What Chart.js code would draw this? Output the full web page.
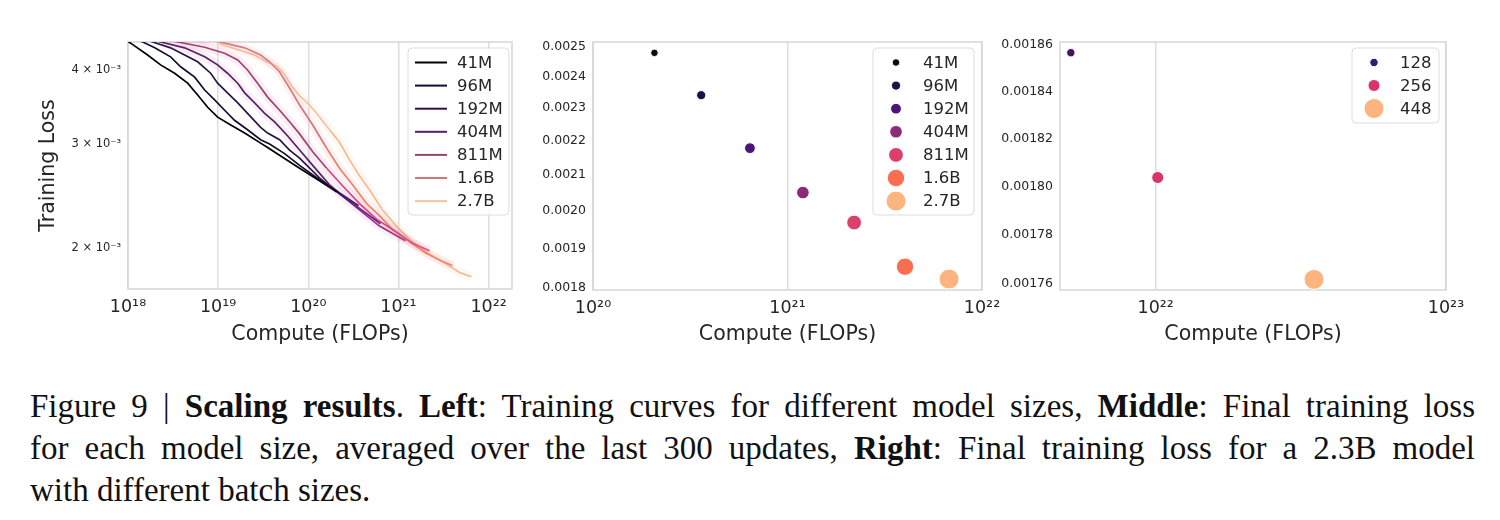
<!DOCTYPE html>
<html>
<head>
<meta charset="utf-8">
<script src="https://cdn.jsdelivr.net/npm/chart.js@4.4.1/dist/chart.umd.min.js"></script>
<style>
  body { margin: 0; background: #fff; width: 1500px; height: 520px; position: relative; overflow: hidden; }
  .panel { position: absolute; top: 0; }
  #caption { position: absolute; left: 30px; top: 385px; width: 1445px; font-family: "Liberation Serif", serif; font-size: 33px; line-height: 42px; color: #111; }
  #caption .ln { text-align: justify; text-align-last: justify; }
  #caption .last { text-align: left; }
</style>
</head>
<body>
<div class="panel" style="left:0px"><canvas id="leftChart" width="520" height="350"></canvas></div>
<div class="panel" style="left:520px"><canvas id="midChart" width="490" height="350"></canvas></div>
<div class="panel" style="left:990px"><canvas id="rightChart" width="510" height="350"></canvas></div>
<div id="caption">
  <div class="ln">Figure 9 | <b>Scaling results</b>. <b>Left</b>: Training curves for different model sizes, <b>Middle</b>: Final training loss</div>
  <div class="ln">for each model size, averaged over the last 300 updates, <b>Right</b>: Final training loss for a 2.3B model</div>
  <div class="last">with different batch sizes.</div>
</div>
<script>
// ---- data ----
const modelSizes = ['41M', '96M', '192M', '404M', '811M', '1.6B', '2.7B'];

// left: training curves (compute in FLOPs, loss)
const compute41M = [9.43e17, 1.07e18, 1.65e18, 2.30e18, 3.29e18, 4.59e18, 5.93e18, 7.65e18, 9.87e18, 1.38e19, 1.97e19, 2.96e19, 3.54e19, 5.19e19, 8.01e19, 1.33e20, 2.06e20];
const loss41M    = [4.49e-3, 4.44e-3, 4.24e-3, 4.08e-3, 3.95e-3, 3.80e-3, 3.63e-3, 3.46e-3, 3.33e-3, 3.23e-3, 3.13e-3, 3.01e-3, 2.96e-3, 2.85e-3, 2.73e-3, 2.60e-3, 2.49e-3];
const compute96M = [1.28e18, 1.46e18, 1.98e18, 2.97e18, 3.84e18, 5.49e18, 7.09e18, 9.15e18, 1.18e19, 1.52e19, 2.12e19, 2.96e19, 3.72e19, 5.46e19, 8.01e19, 1.33e20, 2.22e20, 3.61e20];
const loss96M    = [4.49e-3, 4.46e-3, 4.36e-3, 4.21e-3, 4.05e-3, 3.89e-3, 3.70e-3, 3.56e-3, 3.42e-3, 3.29e-3, 3.17e-3, 3.05e-3, 3.00e-3, 2.89e-3, 2.76e-3, 2.61e-3, 2.48e-3, 2.36e-3];
const compute192M = [1.65e18, 1.88e18, 2.97e18, 4.25e18, 5.93e18, 8.26e18, 9.87e18, 1.27e19, 1.65e19, 2.12e19, 2.96e19, 3.54e19, 4.81e19, 6.20e19, 8.01e19, 1.33e20, 2.06e20, 3.10e20, 4.43e20, 6.33e20];
const loss192M    = [4.49e-3, 4.46e-3, 4.36e-3, 4.24e-3, 4.13e-3, 3.95e-3, 3.80e-3, 3.66e-3, 3.52e-3, 3.38e-3, 3.20e-3, 3.13e-3, 3.05e-3, 2.93e-3, 2.84e-3, 2.63e-3, 2.49e-3, 2.38e-3, 2.29e-3, 2.20e-3];
const compute404M = [2.03e18, 2.30e18, 4.25e18, 7.09e18, 9.87e18, 1.27e19, 1.65e19, 1.97e19, 2.54e19, 3.28e19, 4.23e19, 5.75e19, 8.01e19, 1.12e20, 1.72e20, 2.66e20, 4.00e20, 6.17e20, 9.05e20, 1.20e21];
const loss404M    = [4.49e-3, 4.46e-3, 4.36e-3, 4.21e-3, 4.08e-3, 3.95e-3, 3.80e-3, 3.66e-3, 3.52e-3, 3.38e-3, 3.27e-3, 3.11e-3, 2.93e-3, 2.76e-3, 2.56e-3, 2.42e-3, 2.30e-3, 2.18e-3, 2.11e-3, 2.06e-3];
const compute811M = [2.90e18, 3.56e18, 7.09e18, 1.18e19, 1.65e19, 2.12e19, 2.74e19, 3.54e19, 4.81e19, 6.20e19, 8.01e19, 1.12e20, 1.60e20, 2.40e20, 3.70e20, 5.72e20, 9.53e20, 1.43e21, 2.21e21];
const loss811M    = [4.49e-3, 4.46e-3, 4.37e-3, 4.27e-3, 4.16e-3, 4.00e-3, 3.80e-3, 3.60e-3, 3.42e-3, 3.27e-3, 3.12e-3, 2.91e-3, 2.73e-3, 2.55e-3, 2.38e-3, 2.24e-3, 2.13e-3, 2.04e-3, 1.98e-3];
const compute1p6B = [6.23e18, 9.15e18, 1.18e19, 1.97e19, 2.96e19, 3.72e19, 4.81e19, 6.20e19, 8.01e19, 1.12e20, 1.60e20, 2.22e20, 3.10e20, 4.43e20, 6.17e20, 8.60e20, 1.33e21, 2.05e21, 3.08e21, 3.98e21];
const loss1p6B    = [4.49e-3, 4.48e-3, 4.44e-3, 4.36e-3, 4.24e-3, 4.13e-3, 3.97e-3, 3.73e-3, 3.49e-3, 3.23e-3, 2.95e-3, 2.73e-3, 2.56e-3, 2.38e-3, 2.27e-3, 2.15e-3, 2.05e-3, 1.96e-3, 1.90e-3, 1.87e-3];
const compute2p7B = [1.04e19, 1.73e19, 2.54e19, 3.45e19, 4.45e19, 5.32e19, 6.70e19, 8.01e19, 9.58e19, 1.20e20, 1.44e20, 1.72e20, 2.22e20, 2.87e20, 3.70e20, 4.78e20, 6.66e20, 9.53e20, 1.33e21, 2.05e21, 3.08e21, 4.76e21, 6.46e21];
const loss2p7B    = [4.43e-3, 4.32e-3, 4.24e-3, 4.13e-3, 4.06e-3, 3.95e-3, 3.74e-3, 3.62e-3, 3.53e-3, 3.40e-3, 3.28e-3, 3.17e-3, 3.02e-3, 2.82e-3, 2.65e-3, 2.51e-3, 2.32e-3, 2.18e-3, 2.07e-3, 1.97e-3, 1.90e-3, 1.82e-3, 1.79e-3];

// middle: final loss per model size
const finalCompute = [2.07e20, 3.60e20, 6.41e20, 1.20e21, 2.20e21, 4.02e21, 6.77e21];
const finalLoss    = [0.002480, 0.002341, 0.002178, 0.002050, 0.001968, 0.001853, 0.001822];

// right: 2.3B model, batch sizes
const batchSizes   = ['128', '256', '448'];
const batchCompute = [5.1e21, 1.016e22, 3.51e22];
const batchLoss    = [0.0018567, 0.0018039, 0.0017619];

// tick values
const leftXTicks  = [1e18, 1e19, 1e20, 1e21, 1e22];
const leftYTicks  = [2e-3, 3e-3, 4e-3];
const midXTicks   = [1e20, 1e21, 1e22];
const midYTicks   = [0.0018, 0.0019, 0.0020, 0.0021, 0.0022, 0.0023, 0.0024, 0.0025];
const rightXTicks = [1e22, 1e23];
const rightYTicks = [0.00176, 0.00178, 0.00180, 0.00182, 0.00184, 0.00186];

// ---- styles ----
const lineColors  = ['#000000', '#150d2e', '#2b1247', '#51205e', '#94466f', '#d27679', '#f1c4a6'];
const lateColors  = ['#000000', '#2d145e', '#5c1f8c', '#9b2d86', '#d6457a', '#f2825e', '#f7b98f'];
const bandColors  = ['rgba(0,0,0,0)', 'rgba(0,0,0,0)', 'rgba(0,0,0,0)', 'rgba(160,60,140,0.08)', 'rgba(220,80,140,0.10)', 'rgba(240,120,140,0.10)', 'rgba(250,190,150,0.12)'];
const dotColors   = ['#0a0a0f', '#1d1147', '#4b1478', '#8c2a78', '#dc3f6a', '#f76f50', '#fdb47e'];
const dotRadius   = [3.8, 4.6, 5.4, 6.3, 7.4, 8.7, 10];
const batchColors = ['#431460', '#d8336b', '#fdb47e'];
const batchLegendColors = ['#2d1f6b', '#d8336b', '#fdb47e'];
const batchRadius = [4.2, 6, 10];

Chart.defaults.font.family = 'DejaVu Sans';
Chart.defaults.color = '#262626';

const SUP = { '0': '⁰', '1': '¹', '2': '²', '3': '³', '4': '⁴', '5': '⁵', '6': '⁶', '7': '⁷', '8': '⁸', '9': '⁹', '-': '⁻' };
const sup = n => String(n).split('').map(c => SUP[c]).join('');
const pow10Label = v => '10' + sup(Math.round(Math.log10(v)));

const zip = (xs, ys) => xs.map((x, i) => ({ x: x, y: ys[i] }));

// frame + legend drawn inside the plot area
const framePlugin = {
  id: 'frame',
  beforeDatasetsDraw(chart) {
    const { ctx, chartArea: a } = chart;
    ctx.save();
    ctx.strokeStyle = '#d6d6d6';
    ctx.lineWidth = 1.5;
    ctx.strokeRect(a.left, a.top, a.right - a.left, a.bottom - a.top);
    ctx.restore();
  },
  afterDraw(chart, args, opts) {
    const lg = opts.legend;
    if (!lg) return;
    const ctx = chart.ctx;
    ctx.save();
    ctx.beginPath();
    ctx.roundRect(lg.x, lg.y, lg.w, lg.h, 4);
    ctx.fillStyle = 'rgba(255,255,255,0.85)';
    ctx.fill();
    ctx.strokeStyle = '#dddddd';
    ctx.lineWidth = 1;
    ctx.stroke();
    ctx.font = '16.5px "DejaVu Sans"';
    ctx.textBaseline = 'middle';
    lg.items.forEach((it, i) => {
      const y = lg.firstRow + i * lg.rowH;
      if (lg.kind === 'line') {
        ctx.strokeStyle = it.color;
        ctx.lineWidth = 2;
        ctx.beginPath();
        ctx.moveTo(lg.markX - 16, y);
        ctx.lineTo(lg.markX + 16, y);
        ctx.stroke();
      } else {
        ctx.beginPath();
        ctx.arc(lg.markX, y, it.r, 0, Math.PI * 2);
        ctx.fillStyle = it.color;
        ctx.fill();
        ctx.strokeStyle = '#fff';
        ctx.lineWidth = 1;
        ctx.stroke();
      }
      ctx.fillStyle = '#262626';
      ctx.textAlign = 'left';
      ctx.fillText(it.label, lg.textX, y + 1);
    });
    ctx.restore();
  }
};

function logX(min, max, ticks, h) {
  return {
    type: 'logarithmic', position: 'bottom', min: min, max: max,
    afterBuildTicks: ax => { ax.ticks = ticks.map(v => ({ value: v })); },
    afterFit: s => { s.height = h; },
    ticks: { callback: v => pow10Label(v), font: { size: 17.5 }, padding: 8, autoSkip: false, maxRotation: 0 },
    grid: { color: '#dedede', lineWidth: 1.5, drawTicks: false },
    border: { display: false },
    title: { display: true, text: 'Compute (FLOPs)', font: { size: 20.5 }, padding: { top: 0, bottom: 3 } }
  };
}

function logY(min, max, ticks, w, fmt, size, titleText) {
  const y = {
    type: 'logarithmic', position: 'left', min: min, max: max,
    afterBuildTicks: ax => { ax.ticks = ticks.map(v => ({ value: v })); },
    afterFit: s => { s.width = w; },
    ticks: { callback: fmt, font: { size: size }, padding: 7, autoSkip: false },
    grid: { display: false, drawTicks: false },
    border: { display: false }
  };
  if (titleText) {
    y.title = { display: true, text: titleText, font: { size: 20.5 }, padding: { top: 36, bottom: 0 } };
  }
  return y;
}

// ---- left chart ----
const leftSeries = [
  zip(compute41M, loss41M), zip(compute96M, loss96M), zip(compute192M, loss192M),
  zip(compute404M, loss404M), zip(compute811M, loss811M), zip(compute1p6B, loss1p6B),
  zip(compute2p7B, loss2p7B)
];

const bandSets = leftSeries.map((d, i) => ({
  label: modelSizes[i] + ' band', data: d, borderColor: bandColors[i], borderWidth: 9,
  pointRadius: 0, fill: false, tension: 0, borderJoinStyle: 'round'
}));
const lineSets = leftSeries.map((d, i) => ({
  label: modelSizes[i], data: d, borderColor: lineColors[i], borderWidth: 1.7,
  pointRadius: 0, fill: false, tension: 0,
  segment: { borderColor: ctx => ctx.p0.parsed.x >= 1.5e20 ? lateColors[i] : lineColors[i] }
}));

new Chart('leftChart', {
  type: 'line',
  data: { datasets: bandSets.concat(lineSets) },
  options: {
    responsive: false, animation: false,
    layout: { padding: { top: 42, right: 8, left: 0, bottom: 0 } },
    scales: {
      x: logX(1e18, 1.82e22, leftXTicks, 61),
      y: logY(1.707e-3, 4.46e-3, leftYTicks, 128, v => Math.round(v * 1000) + ' × 10⁻³', 11.5, 'Training Loss')
    },
    plugins: {
      legend: { display: false }, tooltip: { enabled: false },
      frame: {
        legend: {
          kind: 'line', x: 408, y: 48, w: 101, h: 167, firstRow: 62.5, rowH: 23.1, markX: 431, textX: 457,
          items: modelSizes.map((s, i) => ({ label: s, color: lineColors[i] }))
        }
      }
    }
  },
  plugins: [framePlugin]
});

// ---- middle chart ----
new Chart('midChart', {
  type: 'scatter',
  data: {
    datasets: modelSizes.map((s, i) => ({
      label: s, data: [{ x: finalCompute[i], y: finalLoss[i] }],
      backgroundColor: dotColors[i], borderColor: '#ffffff', borderWidth: 1,
      pointRadius: dotRadius[i], clip: false
    }))
  },
  options: {
    responsive: false, animation: false,
    layout: { padding: { top: 42, right: 28, left: 0, bottom: 0 } },
    scales: {
      x: logX(1e20, 1e22, midXTicks, 60),
      y: logY(0.0017951, 0.002517, midYTicks, 73, v => v.toFixed(4), 12.5, null)
    },
    plugins: {
      legend: { display: false }, tooltip: { enabled: false },
      frame: {
        legend: {
          kind: 'dot', x: 353, y: 48, w: 101, h: 167, firstRow: 62.5, rowH: 23.1, markX: 376, textX: 403,
          items: modelSizes.map((s, i) => ({ label: s, color: dotColors[i], r: dotRadius[i] }))
        }
      }
    }
  },
  plugins: [framePlugin]
});

// ---- right chart ----
new Chart('rightChart', {
  type: 'scatter',
  data: {
    datasets: batchSizes.map((s, i) => ({
      label: s, data: [{ x: batchCompute[i], y: batchLoss[i] }],
      backgroundColor: batchColors[i], borderColor: '#ffffff', borderWidth: 1,
      pointRadius: batchRadius[i], clip: false
    }))
  },
  options: {
    responsive: false, animation: false,
    layout: { padding: { top: 42, right: 54, left: 0, bottom: 0 } },
    scales: {
      x: logX(4.68e21, 1e23, rightXTicks, 60),
      y: logY(0.0017576, 0.0018613, rightYTicks, 70, v => v.toFixed(5), 12.5, null)
    },
    plugins: {
      legend: { display: false }, tooltip: { enabled: false },
      frame: {
        legend: {
          kind: 'dot', x: 362, y: 48, w: 87, h: 75, firstRow: 62.5, rowH: 23, markX: 384, textX: 410,
          items: batchSizes.map((s, i) => ({ label: s, color: batchLegendColors[i], r: batchRadius[i] }))
        }
      }
    }
  },
  plugins: [framePlugin]
});
</script>
</body>
</html>
